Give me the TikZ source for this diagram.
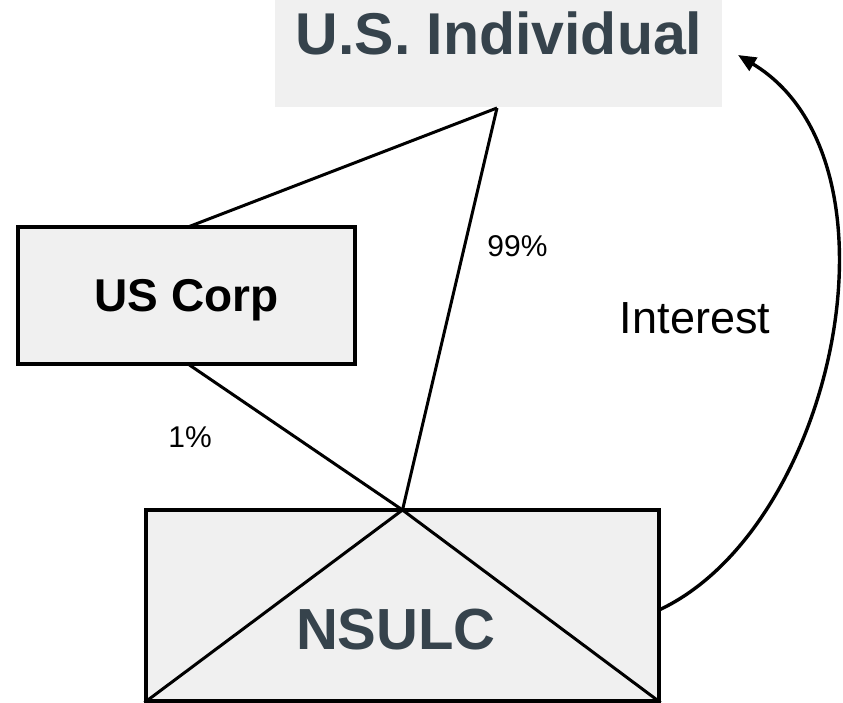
\documentclass[tikz,border=0pt]{standalone}
\usepackage{fontspec}
\setmainfont{Liberation Sans}
\usetikzlibrary{arrows.meta}
\definecolor{boxgray}{HTML}{F0F0F0}
\definecolor{slate}{HTML}{36434C}
\begin{document}
\begin{tikzpicture}[x=1pt,y=-1pt,
  entity/.style={draw=black,line width=3.2pt,fill=boxgray,inner sep=0pt},
  link/.style={draw=black,line width=3pt},
  lbl/.style={inner sep=0pt,anchor=base,font=\fontsize{30}{30}\selectfont}]
\useasboundingbox (0,0) rectangle (843,703);
% U.S. Individual
\node[fill=boxgray,inner sep=0pt,minimum width=447pt,minimum height=107pt] (ind) at (498.5,53.5) {};
\node[inner sep=0pt,anchor=base,text=slate,font=\fontsize{59}{59}\selectfont\bfseries] (indtxt) at (499,55) {U.S. Individual};
\coordinate (apex) at (497,108);
% US Corp
\node[entity,minimum width=337pt,minimum height=137pt] (corp) at (186.5,295.5) {};
\node[inner sep=0pt,anchor=base,font=\fontsize{46}{46}\selectfont\bfseries] (corptxt) at (186.5,312) {US Corp};
% NSULC
\node[entity,minimum width=513pt,minimum height=191pt] (nsulc) at (402.5,605.5) {};
\coordinate (top) at (402.5,510);
\draw[link] (nsulc.south west) -- (top) -- (nsulc.south east);
\node[inner sep=0pt,anchor=base,text=slate,font=\fontsize{58}{58}\selectfont\bfseries] (nsulctxt) at (396,649) {NSULC};
% ownership lines
\coordinate (corptop) at (188,227);
\coordinate (corpbot) at (188,364);
\draw[link] (apex) -- (corptop);
\draw[link] (apex) -- (top);
\draw[link] (corpbot) -- (top);
\node[lbl] (p99) at (517.5,257) {99\%};
\node[lbl] (p1) at (190,447) {1\%};
% interest arrow
\coordinate (arrs) at (659,610);
\coordinate (arre) at (738,55);
\draw[line width=3.4pt,-{Triangle[length=18pt,width=15pt]}] (arrs) .. controls (835,528) and (912,160) .. (arre);
\node[lbl,font=\fontsize{45}{45}\selectfont] (int) at (695,333) {Interest};
\end{tikzpicture}
\end{document}
